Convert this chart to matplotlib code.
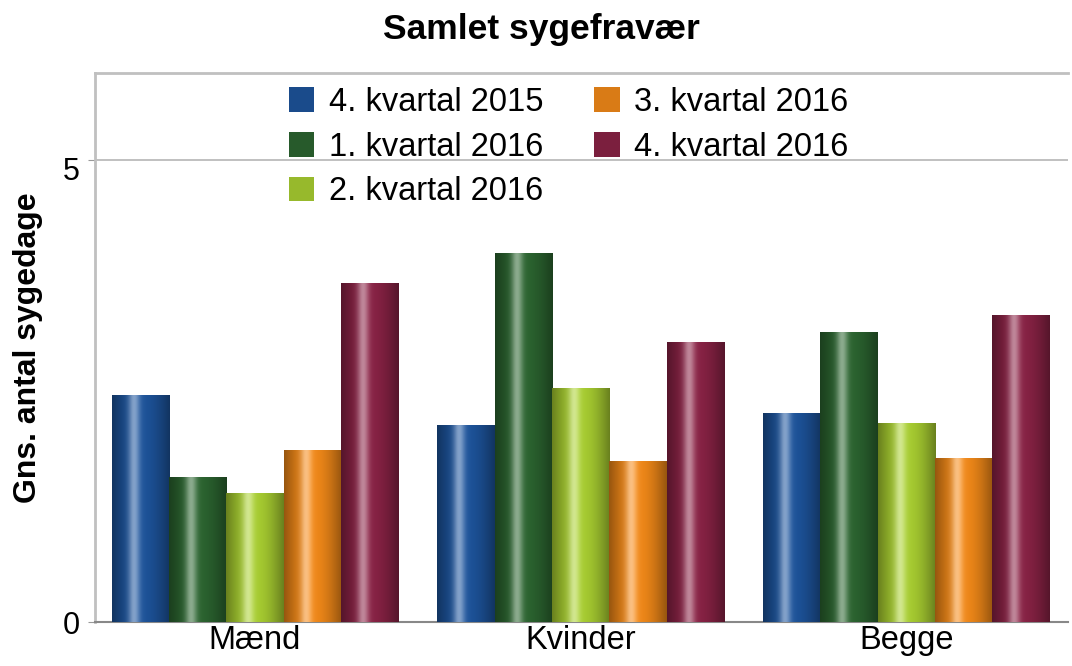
import matplotlib
matplotlib.use('Agg')
import matplotlib.pyplot as plt
import matplotlib.colors as mcolors
import matplotlib.transforms as mtransforms
import numpy as np

plt.rcParams['font.family'] = ['Liberation Sans', 'DejaVu Sans']

categories = ['Mænd', 'Kvinder', 'Begge']
series = ['4. kvartal 2015', '1. kvartal 2016', '2. kvartal 2016',
          '3. kvartal 2016', '4. kvartal 2016']
q4_2015 = [2.46, 2.13, 2.26]
q1_2016 = [1.57, 3.99, 3.14]
q2_2016 = [1.40, 2.53, 2.15]
q3_2016 = [1.86, 1.74, 1.77]
q4_2016 = [3.67, 3.03, 3.32]
colors = ['#1a4b8b', '#275a2b', '#97b92c', '#d97b16', '#7b1f3e']


def cylinder(ax, patch, color):
    # horizontal gradient to fake the cylinder look
    base = np.array(mcolors.to_rgb(color))
    t = np.linspace(0, 1, 64)
    light = np.exp(-((t - 0.38) / 0.1) ** 2) * 0.45
    shade = 0.7 + 0.4 * np.sin(np.pi * t)
    rgb = np.clip(base[None, :] * shade[:, None] + light[:, None] * (1 - base[None, :]), 0, 1)
    img = rgb[None, :, :]
    x0, y0 = patch.get_x(), patch.get_y()
    w, h = patch.get_width(), patch.get_height()
    im = ax.imshow(img, extent=(x0, x0 + w, y0, y0 + h), aspect='auto',
                   interpolation='bilinear', zorder=3)
    im.set_clip_path(patch)


def main():
    data = [q4_2015, q1_2016, q2_2016, q3_2016, q4_2016]
    fig = plt.figure(figsize=(10.72, 6.66), dpi=100)
    ax = fig.add_axes([95 / 1072, 44 / 666, 973 / 1072, 549 / 666])
    x = np.arange(len(categories))
    width = 0.176
    for i, vals in enumerate(data):
        bars = ax.bar(x + (i - 2) * width, vals, width, color=colors[i],
                      label=series[i], zorder=2)
        for p in bars:
            cylinder(ax, p, colors[i])
    ax.set_xlim(-0.491, 2.496)
    ax.set_ylim(0, 5.94)
    ax.set_yticks([0, 5])
    ax.set_xticks(x)
    ax.set_xticklabels(categories, fontsize=23.5)
    ax.tick_params(axis='y', labelsize=22, length=5, color='#999999', pad=6)
    ax.tick_params(axis='x', length=0, pad=2)
    # the "5" sits a bit below the back-wall gridline in the original
    lab5 = ax.get_yticklabels()[1]
    lab5.set_transform(lab5.get_transform() +
                       mtransforms.ScaledTranslation(0, -9 / 100, fig.dpi_scale_trans))
    ax.axhline(5, color='#c0c0c0', lw=1.4, zorder=1)
    for s in ['left', 'top']:
        ax.spines[s].set_color('#c0c0c0')
        ax.spines[s].set_linewidth(2)
    ax.spines['bottom'].set_color('#888888')
    ax.spines['bottom'].set_linewidth(1.5)
    ax.spines['right'].set_visible(False)
    ax.set_ylabel('Gns. antal sygedage', fontsize=23, fontweight='bold', labelpad=14)
    fig.text(541 / 1072, 1 - 30 / 666, 'Samlet sygefravær', fontsize=25.5,
             fontweight='bold', ha='center', va='center')
    fig.legend(ncol=2, frameon=False, fontsize=23.5, loc='upper left',
               bbox_to_anchor=(289 / 1072, 1 - 87 / 666), borderpad=0,
               borderaxespad=0, handlelength=0.78, handleheight=0.78,
               columnspacing=1.55, labelspacing=0.42, handletextpad=0.45)
    fig.savefig('out.png', dpi=100)


if __name__ == '__main__':
    main()
